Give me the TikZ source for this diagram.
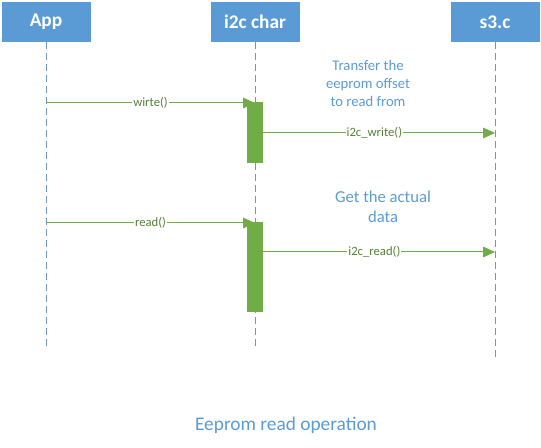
\documentclass[tikz,border=0pt]{standalone}
\usepackage{fontspec}
\setmainfont{Carlito}
\usepackage{xcolor}
\usetikzlibrary{positioning, arrows.meta}
\definecolor{hdrblue}{HTML}{5B9BD5}
\definecolor{lifeblue}{HTML}{6F93CC}
\definecolor{msggreen}{HTML}{70AD47}
\definecolor{lblgreen}{HTML}{548235}

\begin{document}
\begin{tikzpicture}[x=0.75pt, y=-0.75pt,
    header/.style={fill=hdrblue, text=white, inner sep=0pt,
      minimum width=66.75pt, minimum height=30pt,
      font=\fontsize{14.5}{17}\selectfont\bfseries},
    lifeline/.style={draw=lifeblue, line width=0.75pt, dash pattern=on 5.25pt off 3pt},
    actbar/.style={fill=msggreen, inner sep=0pt, minimum width=12pt, anchor=north},
    msg/.style={draw=msggreen, line width=0.75pt, -{Triangle[length=9pt, width=8pt]}},
    msglabel/.style={fill=white, text=lblgreen, inner sep=0.8pt,
      font=\fontsize{9.5}{11}\selectfont},
    note/.style={text=hdrblue, align=center, font=\fontsize{11}{13.5}\selectfont}]
  \useasboundingbox (0,0) rectangle (541,448);
  % participants
  \node[header] (app) at (46,22) {App};
  \node[header] (chr) at (255,22) {i2c char};
  \node[header] (s3c) at (495,22) {s3.c};
  \coordinate (appEnd) at (46,350);
  \coordinate (chrEnd) at (255,350);
  \coordinate (s3cEnd) at (495,358);
  \draw[lifeline] (app.south) -- (appEnd);
  \draw[lifeline] (chr.south) -- (chrEnd);
  \draw[lifeline] (s3c.south) -- (s3cEnd);
  % write
  \coordinate (wrFrom) at (46,103);
  \coordinate (wrTo) at (255,103);
  \draw[msg] (wrFrom) -- node[msglabel] {wirte()} (wrTo);
  \node[actbar, minimum height=45.75pt] (bar1) at (255,102) {};
  \coordinate (iwFrom) at (263,133);
  \coordinate (iwTo) at (495,133);
  \draw[msg] (iwFrom) -- node[msglabel, pos=0.48] {i2c\_write()} (iwTo);
  \node[note] (noteWr) at (368,83) {Transfer the\\eeprom offset\\to read from};
  % read
  \coordinate (rdFrom) at (46,223);
  \coordinate (rdTo) at (255,223);
  \draw[msg] (rdFrom) -- node[msglabel] {read()} (rdTo);
  \node[actbar, minimum height=67.5pt] (bar2) at (255,222) {};
  \coordinate (irFrom) at (263,252);
  \coordinate (irTo) at (495,252);
  \draw[msg] (irFrom) -- node[msglabel, pos=0.48] {i2c\_read()} (irTo);
  \node[note, font=\fontsize{12.5}{15}\selectfont] (noteRd) at (383,207) {Get the actual\\data};
  % caption
  \node[text=hdrblue, font=\fontsize{14.5}{17}\selectfont] (caption) at (286,425) {Eeprom read operation};
\end{tikzpicture}
\end{document}
